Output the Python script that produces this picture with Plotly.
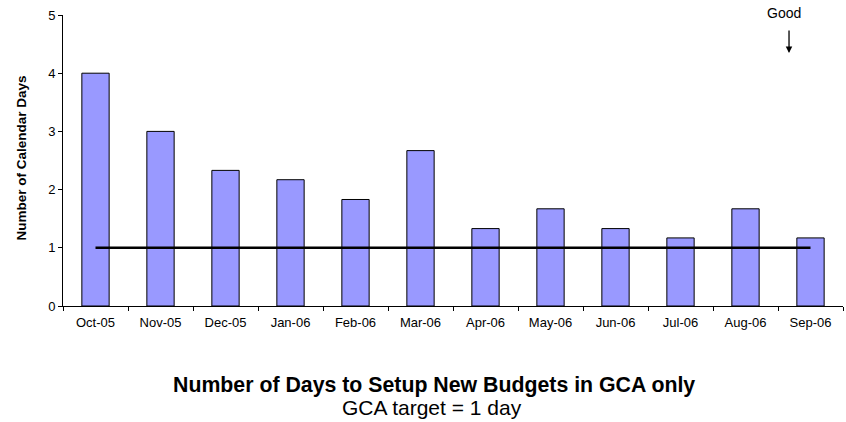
import plotly.graph_objects as go

months = ["Oct-05", "Nov-05", "Dec-05", "Jan-06", "Feb-06", "Mar-06",
          "Apr-06", "May-06", "Jun-06", "Jul-06", "Aug-06", "Sep-06"]
days = [4.0, 3.0, 2.33, 2.17, 1.83, 2.67, 1.33, 1.67, 1.33, 1.17, 1.67, 1.17]
target = [1, 1, 1, 1, 1, 1, 1, 1, 1, 1, 1, 1]
y_ticks = [0, 1, 2, 3, 4, 5]

FONT = "Liberation Sans, Arial, sans-serif"

fig = go.Figure()
fig.add_trace(go.Bar(
    x=months, y=days,
    marker=dict(color="#9999FF", line=dict(color="#000000", width=1)),
    showlegend=False, hoverinfo="x+y",
))
fig.add_trace(go.Scatter(
    x=months, y=target, mode="lines",
    line=dict(color="#000000", width=2.5),
    showlegend=False,
))

fig.update_layout(
    width=846, height=422,
    margin=dict(l=63, r=3, t=15, b=116),
    paper_bgcolor="white", plot_bgcolor="white",
    bargap=0.58,
    font=dict(family=FONT, color="black", size=12),
    xaxis=dict(
        type="category", range=[-0.5, 11.5],
        showline=True, linecolor="black", linewidth=1,
        ticks="outside", ticklen=4, tickcolor="black", tickson="boundaries",
        showgrid=False, zeroline=False,
        ticklabelstandoff=4,
        tickfont=dict(size=13, family=FONT),
    ),
    yaxis=dict(
        range=[0, 5], tickvals=y_ticks,
        showline=True, linecolor="black", linewidth=1,
        ticks="outside", ticklen=4, tickcolor="black",
        showgrid=False, zeroline=False,
        tickfont=dict(size=13, family=FONT),
    ),
    annotations=[
        dict(text="<b>Number of Calendar Days</b>", xref="paper", yref="paper",
             x=-0.0526, y=0.51, textangle=-90, showarrow=False,
             xanchor="center", yanchor="middle",
             font=dict(size=13.5, family=FONT)),
        dict(text="<b>Number of Days to Setup New Budgets in GCA only</b>",
             xref="paper", yref="paper", x=0.4756, y=-0.2715,
             showarrow=False, xanchor="center", yanchor="middle",
             font=dict(size=21.3, family=FONT)),
        dict(text="GCA target = 1 day",
             xref="paper", yref="paper", x=0.4737, y=-0.3505,
             showarrow=False, xanchor="center", yanchor="middle",
             font=dict(size=21, family=FONT)),
        dict(text="Good", xref="paper", yref="paper", x=0.9244, y=1.006,
             showarrow=False, xanchor="center", yanchor="middle",
             font=dict(size=14, family=FONT)),
        dict(text="", xref="paper", yref="paper", x=0.9308, y=0.869,
             showarrow=True, ax=0, ay=-24, arrowhead=2, arrowsize=1,
             arrowwidth=1.3, arrowcolor="black"),
    ],
)

fig.write_html("out.html")
